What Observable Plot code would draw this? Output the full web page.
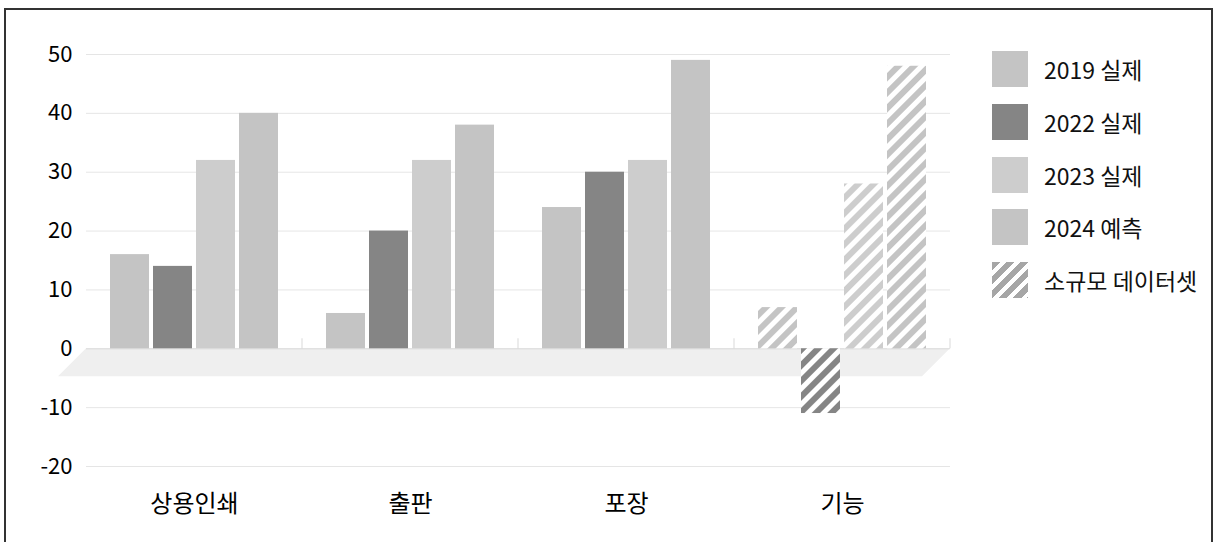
<!DOCTYPE html>
<html>
<head>
<meta charset="utf-8">
<script src="https://cdn.jsdelivr.net/npm/d3@7"></script>
<script src="https://cdn.jsdelivr.net/npm/@observablehq/plot@0.6"></script>
<style>
  html, body { margin: 0; padding: 0; background: #fff; overflow: hidden; }
  #wrap { position: relative; width: 1215px; height: 542px; overflow: hidden; font-family: "Noto Sans CJK KR", "Noto Sans", sans-serif; }
  #frame { position: absolute; left: 4px; top: 8px; width: 1209px; height: 600px; border: 2px solid #333; box-sizing: border-box; pointer-events: none; }
  #chart { position: absolute; left: 0; top: 0; }
  #chart g[aria-label^="fx-axis"] text { font-size: 24px; }
  #chart g[aria-label^="y-axis"] text { font-size: 22px; }
  #legend { position: absolute; left: 992px; top: 51px; display: flex; flex-direction: column; gap: 16.8px; }
  .item { display: flex; align-items: center; height: 36px; }
  .sw { width: 36px; height: 36px; margin-right: 16px; flex: none; }
  .lab { font-size: 23px; color: #111; line-height: 36px; white-space: nowrap; }
</style>
</head>
<body>
<div id="wrap">
  <div id="chart"></div>
  <div id="legend"></div>
  <div id="frame"></div>
</div>
<script>
// ---- data ----
const categories = ["상용인쇄", "출판", "포장", "기능"];
const series = ["2019 실제", "2022 실제", "2023 실제", "2024 예측"];
const values2019 = [16, 6, 24, 7];
const values2022 = [14, 20, 30, -11];
const values2023 = [32, 32, 32, 28];
const values2024 = [40, 38, 49, 48];
const smallDataset = [false, false, false, true]; // 기능 = 소규모 데이터셋 (hatched)
const yTicks = [-20, -10, 0, 10, 20, 30, 40, 50];
const seriesColors = ["#c4c4c4", "#858585", "#cdcdcd", "#c4c4c4"];
const hatchLegendLabel = "소규모 데이터셋";
const hatchLegendColor = "#a6a6a6";

const seriesValues = [values2019, values2022, values2023, values2024];
const rows = [];
categories.forEach((c, ci) => {
  series.forEach((s, si) => {
    rows.push({
      category: c,
      series: s,
      value: seriesValues[si][ci],
      fill: smallDataset[ci] ? `url(#hatch${si})` : seriesColors[si]
    });
  });
});

const svg = Plot.plot({
  width: 1215,
  height: 542,
  marginLeft: 85,
  marginRight: 265,
  marginTop: 54,
  marginBottom: 76,
  style: { fontFamily: '"Noto Sans CJK KR", "Noto Sans", sans-serif', fontSize: "22px", color: "#000", background: "transparent" },
  facet: { data: rows, x: "category" },
  fx: { domain: categories, padding: 0, label: null, tickSize: 0, tickPadding: 28 },
  x: { domain: series, paddingInner: 0.093, paddingOuter: 0.558, axis: null, round: false },
  y: { domain: [-20, 50], ticks: yTicks, tickFormat: d => String(d), grid: true, label: null, tickSize: 0, tickPadding: 14 },
  color: { type: "identity" },
  marks: [
    Plot.barY(rows, { x: "series", y: "value", fill: "fill" })
  ]
});

// patterns for hatched bars
const ns = "http://www.w3.org/2000/svg";
const defs = document.createElementNS(ns, "defs");
seriesColors.forEach((col, i) => {
  const p = document.createElementNS(ns, "pattern");
  p.setAttribute("id", "hatch" + i);
  p.setAttribute("patternUnits", "userSpaceOnUse");
  p.setAttribute("width", "11");
  p.setAttribute("height", "11");
  p.setAttribute("patternTransform", "rotate(45)");
  const bg = document.createElementNS(ns, "rect");
  bg.setAttribute("width", "11"); bg.setAttribute("height", "11"); bg.setAttribute("fill", "#fff");
  const st = document.createElementNS(ns, "rect");
  st.setAttribute("width", "6"); st.setAttribute("height", "11"); st.setAttribute("fill", col);
  p.appendChild(bg); p.appendChild(st);
  defs.appendChild(p);
});
svg.insertBefore(defs, svg.firstChild);

// 3D-like floor band at zero and category separator ticks (from Plot scales)
const yS = svg.scale("y");
const fxS = svg.scale("fx");
const y0 = yS.apply(0);
const left = fxS.apply(categories[0]);
const right = fxS.apply(categories[categories.length - 1]) + fxS.bandwidth;
const depth = 28, slant = 28;
const band = document.createElementNS(ns, "path");
band.setAttribute("d", `M${left},${y0}L${right},${y0}L${right - slant},${y0 + depth}L${left - slant},${y0 + depth}Z`);
band.setAttribute("fill", "#efefef");
const floorG = document.createElementNS(ns, "g");
floorG.appendChild(band);
categories.forEach(c => {
  const xb = fxS.apply(c) + fxS.bandwidth;
  const t = document.createElementNS(ns, "line");
  t.setAttribute("x1", xb); t.setAttribute("x2", xb);
  t.setAttribute("y1", y0 - 10); t.setAttribute("y2", y0);
  t.setAttribute("stroke", "#d9d9d9");
  floorG.appendChild(t);
});
svg.insertBefore(floorG, defs.nextSibling);

document.getElementById("chart").appendChild(svg);

// legend
const legend = document.getElementById("legend");
series.forEach((s, i) => {
  const it = document.createElement("div"); it.className = "item";
  const sw = document.createElement("div"); sw.className = "sw"; sw.style.background = seriesColors[i];
  const lb = document.createElement("div"); lb.className = "lab"; lb.textContent = s;
  it.appendChild(sw); it.appendChild(lb); legend.appendChild(it);
});
{
  const it = document.createElement("div"); it.className = "item";
  const sw = document.createElement("div"); sw.className = "sw";
  sw.style.background = `repeating-linear-gradient(135deg, ${hatchLegendColor} 0px, ${hatchLegendColor} 6px, #fff 6px, #fff 10px)`;
  const lb = document.createElement("div"); lb.className = "lab"; lb.textContent = hatchLegendLabel;
  it.appendChild(sw); it.appendChild(lb); legend.appendChild(it);
}
</script>
</body>
</html>
